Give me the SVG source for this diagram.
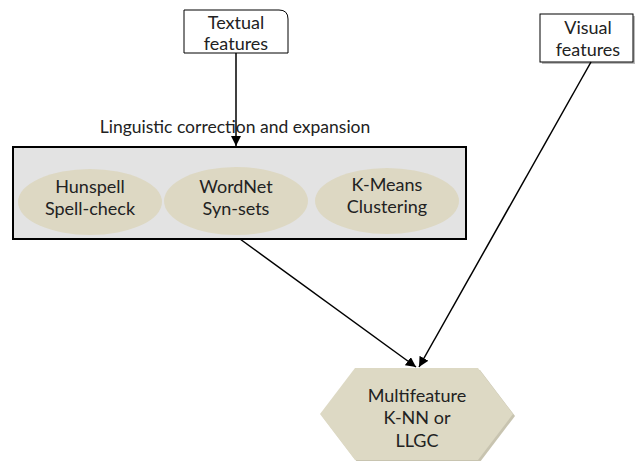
<svg xmlns="http://www.w3.org/2000/svg" width="635" height="461" viewBox="0 0 635 461">
<defs>
<style>
text{font-family:Lato,"Liberation Sans",sans-serif;fill:#222;text-anchor:middle}
.t{font-size:18px}
.e{fill:#ddd8c3}
.c{stroke:#000;stroke-width:1.5;fill:none}
</style>
<marker id="ah" viewBox="0 0 10 10" refX="10" refY="5" markerWidth="10" markerHeight="10" markerUnits="userSpaceOnUse" orient="auto">
<path d="M0,0 L10,5 L0,10 Z" fill="#000"/>
</marker>
</defs>
<rect width="635" height="461" fill="#fff"/>
<g id="textual">
<path d="M184,10 H279 Q288,10 288,19 V53 H184 Z" fill="#fff" stroke="#000" stroke-width="1"/>
<text class="t" x="236" y="29">Textual</text>
<text class="t" x="236" y="50">features</text>
</g>
<g id="visual">
<rect x="542" y="16" width="93" height="48" fill="#bbb"/>
<rect x="540" y="14" width="93" height="48" fill="#fff" stroke="#000" stroke-width="1"/>
<text class="t" x="588" y="34">Visual</text>
<text class="t" x="588" y="56">features</text>
</g>
<g id="linguistic">
<text x="235" y="133" style="font-size:17.5px">Linguistic correction and expansion</text>
<rect x="13" y="147" width="453" height="92" fill="#e3e3e3" stroke="#000" stroke-width="2"/>
<g id="hunspell">
<ellipse class="e" cx="90" cy="202" rx="72" ry="33"/>
<text class="t" x="90" y="193">Hunspell</text>
<text class="t" x="90" y="215">Spell-check</text>
</g>
<g id="wordnet">
<ellipse class="e" cx="236" cy="201" rx="72" ry="34"/>
<text class="t" x="236" y="193">WordNet</text>
<text class="t" x="236" y="215">Syn-sets</text>
</g>
<g id="kmeans">
<ellipse class="e" cx="387" cy="201" rx="72" ry="33"/>
<text class="t" x="387" y="191">K-Means</text>
<text class="t" x="387" y="213">Clustering</text>
</g>
</g>
<g id="multifeature">
<polygon points="357,370 480,370 515,416 480,462 357,462 322,416" fill="#c8c4b0"/>
<polygon points="355,368 478,368 513,414 478,460 355,460 320,414" fill="#ddd9c4"/>
<text class="t" x="417" y="402">Multifeature</text>
<text class="t" x="417" y="424">K-NN or</text>
<text class="t" x="417" y="447">LLGC</text>
</g>
<g id="connectors">
<line class="c" x1="236" y1="53" x2="236" y2="146" marker-end="url(#ah)"/>
<line class="c" x1="240" y1="239" x2="416" y2="367" marker-end="url(#ah)"/>
<line class="c" x1="591" y1="62" x2="419" y2="367" marker-end="url(#ah)"/>
</g>
</svg>
